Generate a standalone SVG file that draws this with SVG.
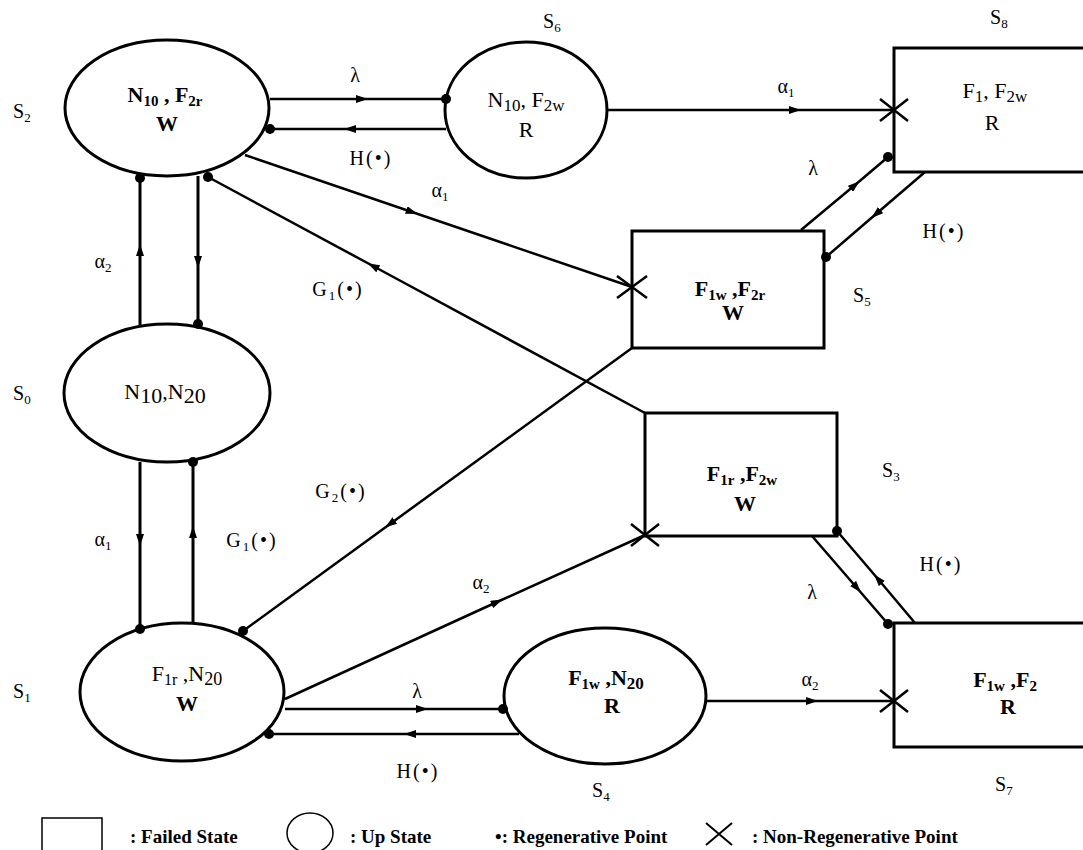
<svg xmlns="http://www.w3.org/2000/svg" width="1083" height="850" viewBox="0 0 1083 850">
<style>
  .shape { fill: #fff; stroke: #000; stroke-width: 3; }
  .edge { fill: none; stroke: #000; stroke-width: 2.5; marker-mid: url(#arr); }
  .thick { stroke-width: 3; }
  .dot { fill: #000; }
  .xm { stroke: #000; stroke-width: 2.5; }
  text { font-family: "Liberation Serif", "Times New Roman", serif; fill: #000; }
  .nt { font-size: 22px; text-anchor: middle; }
  .nb { font-size: 22px; text-anchor: middle; font-weight: bold; }
  .sl { font-size: 20px; }
  .el { font-size: 20px; text-anchor: middle; }
  .hl { font-size: 20px; text-anchor: middle; letter-spacing: 2px; }
  .lg { font-size: 19px; font-weight: bold; }
</style>
<defs>
  <marker id="arr" viewBox="0 0 12 8" refX="6" refY="4" markerWidth="12" markerHeight="8" markerUnits="userSpaceOnUse" orient="auto">
    <path d="M0,0 L12,4 L0,8 z" fill="#000"/>
  </marker>
</defs>

<g id="connectors">
  <path class="edge" d="M270,99 L362,99 L446,99"/>
  <path class="edge" d="M446,129 L350,129 L270,129"/>
  <path class="edge" d="M607,110 L795,110 L894,110"/>
  <path class="edge" d="M245,155 L412,212 L632,287"/>
  <path class="edge" d="M645,413 L373,266 L208,177"/>
  <path class="edge thick" d="M140,325 L140,250 L140,178"/>
  <path class="edge thick" d="M198,176 L198,262 L198,324"/>
  <path class="edge thick" d="M140,462 L140,540 L140,629"/>
  <path class="edge thick" d="M193,623 L193,532 L193,462"/>
  <path class="edge" d="M632,348 L390,524 L243,631"/>
  <path class="edge" d="M285,699 L497,602 L645,535"/>
  <path class="edge" d="M285,709 L422,709 L503,709"/>
  <path class="edge" d="M519,734 L410,734 L269,734"/>
  <path class="edge" d="M707,701 L812,701 L894,701"/>
  <path class="edge" d="M801,230 L855,185 L888,157"/>
  <path class="edge" d="M925,172 L876,214 L826,257"/>
  <path class="edge" d="M812,536 L857,588 L888,624"/>
  <path class="edge" d="M915,623 L878,579 L837,531"/>
</g>

<g id="S2">
  <ellipse class="shape" cx="167" cy="108" rx="102" ry="68"/>
  <text class="nb" x="165" y="102">N<tspan font-size="15" dy="4">10</tspan><tspan dy="-4"> , F</tspan><tspan font-size="15" dy="4">2r</tspan></text>
  <text class="nb" x="167" y="131">W</text>
  <text class="sl" x="13" y="118">S<tspan font-size="13" dy="4">2</tspan></text>
</g>

<g id="S6">
  <ellipse class="shape" cx="526" cy="110" rx="81" ry="68"/>
  <text class="nt" x="526" y="107">N<tspan font-size="17" dy="4">10</tspan><tspan dy="-4">, F</tspan><tspan font-size="17" dy="4">2w</tspan></text>
  <text class="nt" x="526" y="137">R</text>
  <text class="sl" x="543" y="28">S<tspan font-size="13" dy="4">6</tspan></text>
</g>

<g id="S8">
  <rect class="shape" x="894" y="48" width="200" height="124"/>
  <text class="nt" x="995" y="98">F<tspan font-size="17" dy="4">1</tspan><tspan dy="-4">, F</tspan><tspan font-size="17" dy="4">2w</tspan></text>
  <text class="nt" x="992" y="130">R</text>
  <text class="sl" x="990" y="24">S<tspan font-size="13" dy="4">8</tspan></text>
</g>

<g id="S5">
  <rect class="shape" x="632" y="231" width="192" height="117"/>
  <text class="nb" x="730" y="296" font-size="20">F<tspan font-size="15" dy="4">1w</tspan><tspan dy="-4"> ,F</tspan><tspan font-size="15" dy="4">2r</tspan></text>
  <text class="nb" x="733" y="320" font-size="20">W</text>
  <text class="sl" x="853" y="302">S<tspan font-size="13" dy="4">5</tspan></text>
</g>

<g id="S0">
  <ellipse class="shape" cx="167" cy="393" rx="103" ry="69"/>
  <text class="nt" x="165" y="399" font-size="26">N<tspan font-size="22" dy="4">10</tspan><tspan dy="-4">,N</tspan><tspan font-size="22" dy="4">20</tspan></text>
  <text class="sl" x="13" y="400">S<tspan font-size="13" dy="4">0</tspan></text>
</g>

<g id="S3">
  <rect class="shape" x="645" y="413" width="192" height="123"/>
  <text class="nb" x="742" y="481">F<tspan font-size="15" dy="4">1r</tspan><tspan dy="-4"> ,F</tspan><tspan font-size="15" dy="4">2w</tspan></text>
  <text class="nb" x="745" y="511">W</text>
  <text class="sl" x="882" y="477">S<tspan font-size="13" dy="4">3</tspan></text>
</g>

<g id="S1">
  <ellipse class="shape" cx="182" cy="692" rx="102" ry="69"/>
  <text class="nt" x="187" y="681">F<tspan font-size="16" dy="4">1r</tspan><tspan dy="-4"> ,N</tspan><tspan font-size="18" dy="4">20</tspan></text>
  <text class="nb" x="187" y="711">W</text>
  <text class="sl" x="13" y="698">S<tspan font-size="13" dy="4">1</tspan></text>
</g>

<g id="S4">
  <ellipse class="shape" cx="605" cy="696" rx="101" ry="68"/>
  <text class="nb" x="606" y="685">F<tspan font-size="15" dy="4">1w</tspan><tspan dy="-4"> ,N</tspan><tspan font-size="17" dy="4">20</tspan></text>
  <text class="nb" x="612" y="713">R</text>
  <text class="sl" x="592" y="797">S<tspan font-size="13" dy="4">4</tspan></text>
</g>

<g id="S7">
  <rect class="shape" x="894" y="623" width="200" height="124"/>
  <text class="nb" x="1005" y="687">F<tspan font-size="15" dy="4">1w</tspan><tspan dy="-4"> ,F</tspan><tspan font-size="15" dy="4">2</tspan></text>
  <text class="nb" x="1008" y="714">R</text>
  <text class="sl" x="995" y="791">S<tspan font-size="13" dy="4">7</tspan></text>
</g>

<g id="points">
  <circle class="dot" cx="446" cy="99" r="5"/>
  <circle class="dot" cx="270" cy="129" r="5"/>
  <circle class="dot" cx="208" cy="177" r="5"/>
  <circle class="dot" cx="140" cy="178" r="5"/>
  <circle class="dot" cx="198" cy="324" r="5"/>
  <circle class="dot" cx="140" cy="629" r="5"/>
  <circle class="dot" cx="193" cy="462" r="5"/>
  <circle class="dot" cx="243" cy="631" r="5"/>
  <circle class="dot" cx="503" cy="709" r="5"/>
  <circle class="dot" cx="269" cy="734" r="5"/>
  <circle class="dot" cx="888" cy="157" r="5"/>
  <circle class="dot" cx="826" cy="257" r="5"/>
  <circle class="dot" cx="888" cy="624" r="5"/>
  <circle class="dot" cx="837" cy="531" r="5"/>
  <path class="xm" d="M880,99 L908,121 M880,121 L908,99"/>
  <path class="xm" d="M617,276 L647,298 M617,298 L647,276"/>
  <path class="xm" d="M631,524 L659,546 M631,546 L659,524"/>
  <path class="xm" d="M880,690 L908,712 M880,712 L908,690"/>
</g>

<g id="edge-labels">
  <text class="el" x="355" y="82">λ</text>
  <text class="hl" x="371" y="165">H(•)</text>
  <text class="el" x="786" y="93">α<tspan font-size="13" dy="4">1</tspan></text>
  <text class="el" x="440" y="197">α<tspan font-size="13" dy="4">1</tspan></text>
  <text class="hl" x="338" y="296">G<tspan font-size="13" dy="4">1</tspan><tspan dy="-4">(•)</tspan></text>
  <text class="el" x="103" y="268">α<tspan font-size="13" dy="4">2</tspan></text>
  <text class="el" x="103" y="546">α<tspan font-size="13" dy="4">1</tspan></text>
  <text class="hl" x="252" y="547">G<tspan font-size="13" dy="4">1</tspan><tspan dy="-4">(•)</tspan></text>
  <text class="hl" x="341" y="498">G<tspan font-size="13" dy="4">2</tspan><tspan dy="-4">(•)</tspan></text>
  <text class="el" x="481" y="589">α<tspan font-size="13" dy="4">2</tspan></text>
  <text class="el" x="417" y="698">λ</text>
  <text class="hl" x="418" y="778">H(•)</text>
  <text class="el" x="810" y="686">α<tspan font-size="13" dy="4">2</tspan></text>
  <text class="el" x="813" y="175">λ</text>
  <text class="hl" x="944" y="238">H(•)</text>
  <text class="el" x="812" y="599">λ</text>
  <text class="hl" x="941" y="571">H(•)</text>
</g>

<g id="legend">
  <rect x="42" y="818" width="60" height="40" fill="none" stroke="#000" stroke-width="1.5"/>
  <text class="lg" x="130" y="843">: Failed State</text>
  <ellipse cx="310" cy="833" rx="23" ry="20" fill="none" stroke="#000" stroke-width="1.5"/>
  <text class="lg" x="350" y="843">: Up State</text>
  <text class="lg" x="495" y="843">•: Regenerative Point</text>
  <path d="M706,823 L732,845 M706,845 L732,823" stroke="#000" stroke-width="2"/>
  <text class="lg" x="752" y="843">: Non-Regenerative Point</text>
</g>
</svg>
